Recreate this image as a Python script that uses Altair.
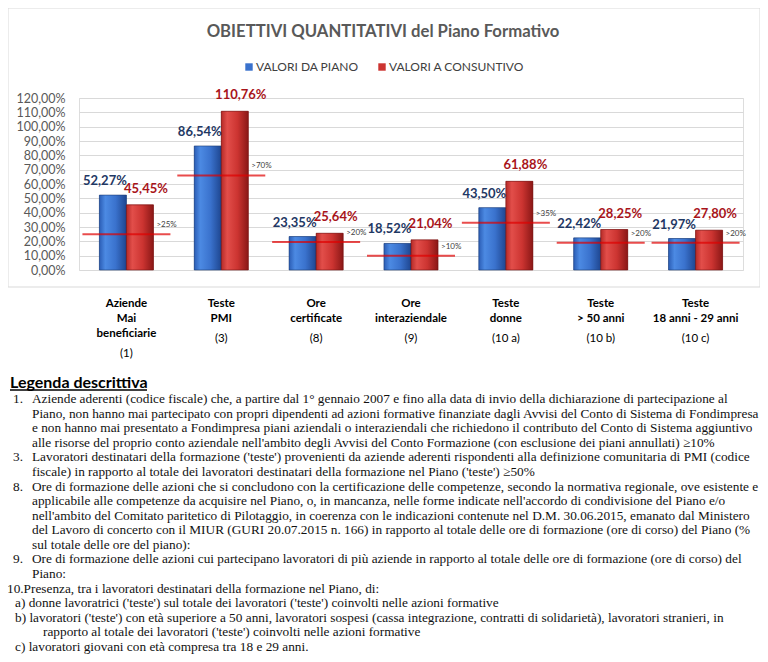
import altair as alt
import pandas as pd

# ---------------- data ----------------
categories = ["Aziende Mai beneficiarie", "Teste PMI", "Ore certificate", "Ore interaziendale",
              "Teste donne", "Teste > 50 anni", "Teste 18 anni - 29 anni"]
cat_names = ["Aziende\nMai\nbeneficiarie", "Teste\nPMI", "Ore\ncertificate", "Ore\ninteraziendale",
             "Teste\ndonne", "Teste\n> 50 anni", "Teste\n18 anni - 29 anni"]
cat_refs = ["(1)", "(3)", "(8)", "(9)", "(10 a)", "(10 b)", "(10 c)"]
series = ["VALORI DA PIANO", "VALORI A CONSUNTIVO"]
valori_piano = [52.27, 86.54, 23.35, 18.52, 43.50, 22.42, 21.97]
valori_consuntivo = [45.45, 110.76, 25.64, 21.04, 61.88, 28.25, 27.80]
soglia_label = [">25%", ">70%", ">20%", ">10%", ">35%", ">20%", ">20%"]
soglia_level = [25, 66, 19.5, 10, 33, 19, 19]   # where the red lines are drawn

title_text = "OBIETTIVI QUANTITATIVI del Piano Formativo"
legend_title = "Legenda descrittiva"
markers = ["1.", "", "", "", "3.", "", "8.", "", "", "", "", "9.", "", "", "", "", "", ""]
kinds = ["body"] * 13 + ["p10", "sub", "sub", "subcont", "sub"]
bodies = [
    "Aziende aderenti (codice fiscale) che, a partire dal 1° gennaio 2007 e fino alla data di invio della dichiarazione di partecipazione al",
    "Piano, non hanno mai partecipato con propri dipendenti ad azioni formative finanziate dagli Avvisi del Conto di Sistema di Fondimpresa",
    "e non hanno mai presentato a Fondimpresa piani aziendali o interaziendali che richiedono il contributo del Conto di Sistema aggiuntivo",
    "alle risorse del proprio conto aziendale nell'ambito degli Avvisi del Conto Formazione (con esclusione dei piani annullati)  ≥10%",
    "Lavoratori destinatari della formazione ('teste') provenienti da aziende aderenti rispondenti alla definizione comunitaria di PMI (codice",
    "fiscale) in rapporto al totale dei lavoratori destinatari della formazione nel Piano ('teste') ≥50%",
    "Ore di formazione delle azioni che si concludono con la certificazione delle competenze, secondo la normativa regionale, ove esistente e",
    "applicabile alle competenze da acquisire nel Piano, o, in mancanza, nelle forme indicate nell'accordo di condivisione del Piano e/o",
    "nell'ambito del Comitato paritetico di Pilotaggio, in coerenza con le indicazioni contenute nel D.M. 30.06.2015, emanato dal Ministero",
    "del Lavoro di concerto con il MIUR (GURI 20.07.2015 n. 166)   in rapporto al totale delle ore di formazione (ore di corso) del Piano (%",
    "sul totale delle ore del piano):",
    "Ore di formazione delle azioni cui partecipano lavoratori di più aziende in rapporto al totale delle ore di formazione (ore di corso) del",
    "Piano:",
    "10.Presenza, tra i lavoratori destinatari della formazione nel Piano, di:",
    "a) donne lavoratrici ('teste') sul totale dei lavoratori ('teste') coinvolti nelle azioni formative",
    "b) lavoratori ('teste') con età superiore a 50 anni, lavoratori sospesi (cassa integrazione, contratti di solidarietà), lavoratori stranieri, in",
    "rapporto al totale dei lavoratori ('teste') coinvolti nelle azioni formative",
    "c) lavoratori giovani con età compresa tra 18 e 29 anni.",
]

# ---------------- tables ----------------
bars_df = pd.DataFrame({
    "cat": categories * 2,
    "series": [series[0]] * len(categories) + [series[1]] * len(categories),
    "value": valori_piano + valori_consuntivo,
})
cat_df = pd.DataFrame({
    "cat": categories,
    "name": cat_names,
    "nlines": [n.count("\n") + 1 for n in cat_names],
    "ref": cat_refs,
    "level": soglia_level,
    "soglia": soglia_label,
})
lines_df = pd.DataFrame({"line": list(range(len(bodies))), "marker": markers, "kind": kinds, "body": bodies})
title_df = pd.DataFrame({"t": [title_text]})
leg_df = pd.DataFrame({"t": [legend_title]})

FONT = "Lato"
xs = alt.Scale(domain=categories, paddingInner=0.43, paddingOuter=0.215)
ys = alt.Scale(domain=[0, 120], nice=False)
xo = alt.Scale(domain=series, paddingInner=0)
X = alt.X("cat:N", scale=xs, axis=None)
XO = alt.XOffset("series:N", scale=xo)
AX = alt.Axis(values=list(range(0, 121, 10)), title=None, domain=False, ticks=False, labelPadding=14,
              labelOverlap=False, labelBound=False, labelFlush=False,
              labelExpr="replace(format(datum.value, '.2f'), '.', ',') + '%'",
              labelFont=FONT, labelFontSize=12.5, labelColor="#595959",
              gridColor="#D9D9D9", gridWidth=1)

def Y(field):
    return alt.Y(field, scale=ys, axis=AX, title=None)

blue_grad = alt.Gradient(gradient="linear", x1=0, x2=1, y1=0, y2=0, stops=[
    alt.GradientStop(offset=0, color="#2B5DB5"),
    alt.GradientStop(offset=0.22, color="#4C8AE3"),
    alt.GradientStop(offset=0.6, color="#3A72CD"),
    alt.GradientStop(offset=1, color="#1E4690")])
red_grad = alt.Gradient(gradient="linear", x1=0, x2=1, y1=0, y2=0, stops=[
    alt.GradientStop(offset=0, color="#B52A27"),
    alt.GradientStop(offset=0.22, color="#E24E4A"),
    alt.GradientStop(offset=0.6, color="#CC3431"),
    alt.GradientStop(offset=1, color="#8A1716")])

box = alt.Chart(title_df).mark_rect(fillOpacity=0, stroke="#D9D9D9", strokeWidth=1).encode(
    x=alt.value(-71), x2=alt.value(681), y=alt.value(-90), y2=alt.value(189))
title = alt.Chart(title_df).mark_text(align="center", baseline="middle", font=FONT, fontSize=16.7,
                                      fontWeight="bold", color="#595959").encode(
    x=alt.value(304), y=alt.value(-66), text="t:N")

solid = alt.Chart(bars_df).mark_bar().encode(
    x=X, xOffset=XO, y=Y("value:Q"),
    color=alt.Color("series:N", scale=alt.Scale(domain=series, range=["#3A72CD", "#CC3431"]),
                    legend=alt.Legend(orient="none", legendX=164, legendY=-37, direction="horizontal",
                                      title=None, symbolType="square", symbolSize=55,
                                      labelFont=FONT, labelFontSize=12, labelColor="#404040",
                                      labelOffset=1, columnPadding=17, symbolStrokeWidth=0)),
)

def grad_bars(name, grad, stroke):
    return alt.Chart(bars_df).transform_filter(alt.datum.series == name).mark_bar(
        fill=grad, stroke=stroke, strokeWidth=0.6).encode(
        x=X, xOffset=XO, y=Y("value:Q"))

bars_b = grad_bars(series[0], blue_grad, "#1D3C73")
bars_r = grad_bars(series[1], red_grad, "#6E1212")

ticks = alt.Chart(cat_df).mark_tick(size=88, thickness=2, color="#E00000").encode(
    x=X, y=Y("level:Q"))
tick_lbl = alt.Chart(cat_df).mark_text(align="left", baseline="middle", dx=30, dy=-9,
                                       font=FONT, fontSize=8, color="#404040").encode(
    x=X, y=Y("level:Q"), text="soglia:N")

def val_labels(name, color, dx, dy):
    return alt.Chart(bars_df).transform_filter(alt.datum.series == name).transform_calculate(
        lbl="replace(format(datum.value, '.2f'), '.', ',') + '%'").mark_text(
        baseline="middle", dx=dx, dy=dy, font=FONT, fontSize=13, fontWeight="bold", color=color).encode(
        x=X, xOffset=XO, y=Y("value:Q"), text="lbl:N")

lbl_b = val_labels(series[0], "#1F3864", -8, -14)
lbl_r = val_labels(series[1], "#A8141A", 6, -16)

cat_bold = alt.Chart(cat_df).mark_text(baseline="top", lineBreak="\n", lineHeight=15, font=FONT,
                                       fontSize=11.5, fontWeight="bold", color="#000000").encode(
    x=X, y=alt.value(200), text="name:N")

def ref_layer(n, ypx):
    return alt.Chart(cat_df).transform_filter(alt.datum.nlines == n).mark_text(
        baseline="top", font=FONT, fontSize=11.5, color="#000000").encode(
        x=X, y=alt.value(ypx), text="ref:N")

bars_group = alt.layer(box, title, solid, bars_b, bars_r, ticks, tick_lbl, lbl_b, lbl_r, cat_bold,
                       ref_layer(3, 250), ref_layer(2, 235))

# ---------------- descriptive legend text ----------------
SERIF = "Liberation Serif"
SZ = 13.3
yl = alt.Scale(domain=[0, len(bodies) - 1], range=[301, 549])
leg_title = alt.Chart(leg_df).mark_text(align="left", baseline="middle", font=FONT, fontSize=16,
                                        fontWeight="bold", color="#000000").encode(
    x=alt.value(-69), y=alt.value(285), text="t:N")
leg_ul = alt.Chart(leg_df).mark_rule(color="#000000", strokeWidth=1.3).encode(
    x=alt.value(-69), x2=alt.value(68), y=alt.value(292))

def body_layer(kind, xpx):
    return alt.Chart(lines_df).transform_filter(alt.datum.kind == kind).mark_text(
        align="left", baseline="middle", font=SERIF, fontSize=SZ, color="#111111").encode(
        x=alt.value(xpx), y=alt.Y("line:Q", scale=yl, axis=None), text="body:N")

mark_layer = alt.Chart(lines_df).transform_filter(alt.datum.marker != "").mark_text(
    align="right", baseline="middle", font=SERIF, fontSize=SZ, color="#111111").encode(
    x=alt.value(-56), y=alt.Y("line:Q", scale=yl, axis=None), text="marker:N")

text_group = alt.layer(leg_title, leg_ul, mark_layer,
                       body_layer("body", -47), body_layer("p10", -72),
                       body_layer("sub", -64), body_layer("subcont", -36))

chart = alt.layer(bars_group, text_group).resolve_scale(y="independent").properties(
    width=664, height=172,
    padding={"left": 71, "top": 90, "right": 17, "bottom": 384},
    autosize=alt.AutoSizeParams(type="none"),
).configure_view(strokeWidth=0).configure(background="white")

chart.save("out.html", embed_options={"renderer": "svg", "actions": False})
